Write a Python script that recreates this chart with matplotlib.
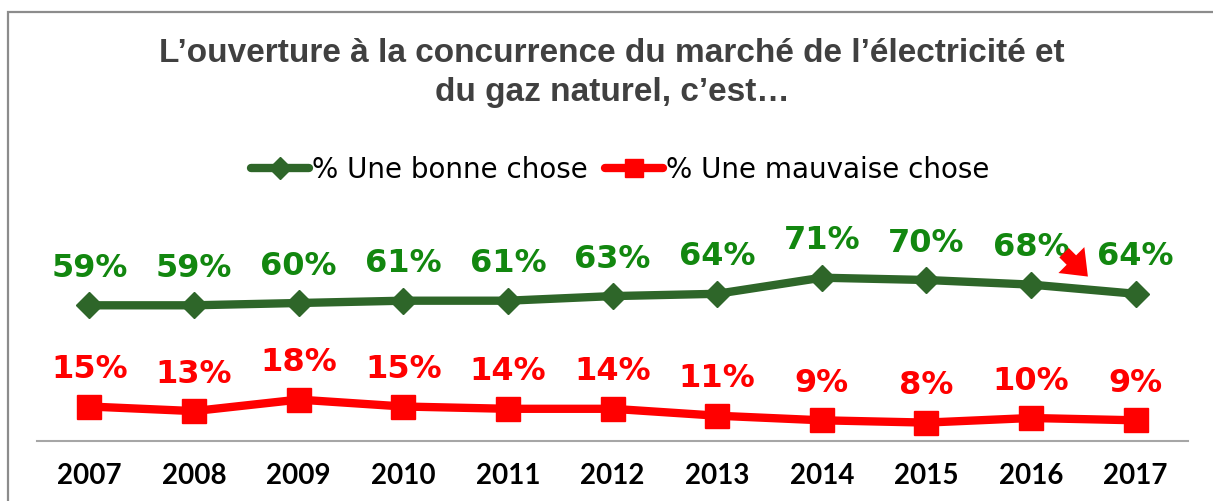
import matplotlib
matplotlib.use("Agg")
import matplotlib.pyplot as plt
import matplotlib.transforms as mtransforms
from matplotlib.lines import Line2D
from matplotlib.patches import Rectangle

# data
years = ["2007", "2008", "2009", "2010", "2011", "2012", "2013", "2014", "2015", "2016", "2017"]
bonne = [59, 59, 60, 61, 61, 63, 64, 71, 70, 68, 64]
mauvaise = [15, 13, 18, 15, 14, 14, 11, 9, 8, 10, 9]

title = "L\u2019ouverture \u00e0 la concurrence du march\u00e9 de l\u2019\u00e9lectricit\u00e9 et\ndu gaz naturel, c\u2019est\u2026"
lab_bonne = "% Une bonne chose"
lab_mauvaise = "% Une mauvaise chose"

green_line = "#2e6629"
green_text = "#12870f"
red = "#ff0000"

fig = plt.figure(figsize=(12.13, 5.01), dpi=100)

# grey frame round the chart (right and bottom edges fall outside the picture)
fig.patches.append(Rectangle((8 / 1213, -0.05), 1.2, 1 - 12 / 501 + 0.05,
                             transform=fig.transFigure, fill=False,
                             edgecolor="#8c8c8c", linewidth=1.6))

ax = fig.add_axes([37 / 1213, 60 / 501, 1151 / 1213, 230 / 501])
x = list(range(len(years)))

ax.plot(x, bonne, color=green_line, lw=6, marker="D", ms=13,
        solid_capstyle="round", zorder=3)
ax.plot(x, mauvaise, color=red, lw=6, marker="s", ms=17,
        solid_capstyle="round", zorder=3)

for i in x:
    ax.annotate(f"{bonne[i]}%", (i, bonne[i]), xytext=(0, 26.5), textcoords="offset points",
                ha="center", va="center", color=green_text, fontsize=23,
                family="DejaVu Sans", fontweight="bold")
    ax.annotate(f"{mauvaise[i]}%", (i, mauvaise[i]), xytext=(0, 26.5), textcoords="offset points",
                ha="center", va="center", color=red, fontsize=23,
                family="DejaVu Sans", fontweight="bold")

# little red arrow showing the drop in 2017
last = len(years) - 1
tip = mtransforms.offset_copy(ax.transData, fig=fig, x=-33, y=11, units="points")
ax.annotate("", xy=(last, bonne[last]), xycoords=tip, xytext=(-20, 20),
            textcoords="offset points",
            arrowprops=dict(arrowstyle="simple,head_length=0.7,head_width=1.1,tail_width=0.4",
                            color=red, lw=0, mutation_scale=24))

ax.set_xlim(-0.5, len(years) - 0.5)
ax.set_ylim(0, 100)
ax.set_xticks(x)
ax.set_xticklabels(years, fontsize=20, family="Lato", fontweight="bold")
ax.tick_params(axis="x", length=0, pad=16)
ax.set_yticks([])
for s in ["top", "left", "right"]:
    ax.spines[s].set_visible(False)
ax.spines["bottom"].set_color("#a6a6a6")
ax.spines["bottom"].set_linewidth(1.5)

fig.text(612 / 1213, 1 - 73 / 501, title, ha="center", va="center",
         fontsize=24, family="Liberation Sans", fontweight="bold",
         color="#404040", linespacing=1.32)

handles = [Line2D([], [], color=green_line, lw=6, marker="D", ms=11, solid_capstyle="round"),
           Line2D([], [], color=red, lw=6, marker="s", ms=13, solid_capstyle="round")]
fig.legend(handles, [lab_bonne, lab_mauvaise], loc="center", ncol=2,
           bbox_to_anchor=(620 / 1213, 1 - 170 / 501), frameon=False,
           prop=dict(family="DejaVu Sans", size=20), handlelength=2.1,
           handletextpad=0.1, columnspacing=0.6)

fig.savefig("out.png", dpi=100)
